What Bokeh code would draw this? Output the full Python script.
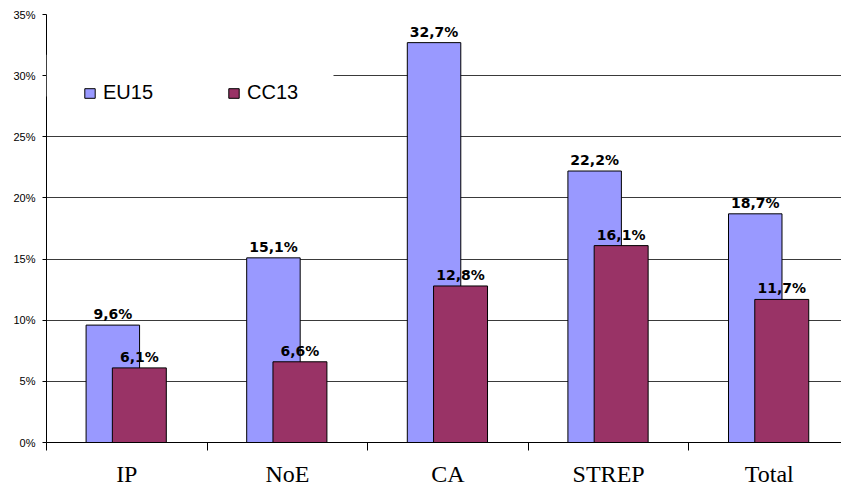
from bokeh.plotting import figure
from bokeh.models import (Range1d, FixedTicker, PrintfTickFormatter, Legend, LegendItem,
                          BoxAnnotation, ColumnDataSource)
from bokeh.core.properties import value
from bokeh.embed import file_html
from bokeh.resources import INLINE

categories = ["IP", "NoE", "CA", "STREP", "Total"]
eu15 = [9.6, 15.1, 32.7, 22.2, 18.7]
cc13 = [6.1, 6.6, 12.8, 16.1, 11.7]
y_ticks = [0, 5, 10, 15, 20, 25, 30, 35]

EU_COLOR = "#9999FF"
CC_COLOR = "#993366"
GRID = "#3a3a3a"

xs = list(range(len(categories)))
fmt = lambda v: f"{v:.1f}%".replace(".", ",")

src_eu = ColumnDataSource(dict(x=[i - 0.087 for i in xs], top=eu15, lab=[fmt(v) for v in eu15]))
src_cc = ColumnDataSource(dict(x=[i + 0.078 for i in xs], top=cc13, lab=[fmt(v) for v in cc13]))

p = figure(width=841, height=489, output_backend="svg", toolbar_location=None,
           x_range=Range1d(-0.5, 4.45), y_range=Range1d(0, 35),
           min_border_left=46, min_border_right=0, min_border_top=14, min_border_bottom=46)
p.outline_line_color = None
p.background_fill_color = "white"
p.border_fill_color = "white"

# grid
p.xgrid.grid_line_color = None
p.ygrid.ticker = FixedTicker(ticks=y_ticks[1:])
p.ygrid.grid_line_color = GRID
p.ygrid.grid_line_width = 1

# y axis
p.yaxis.ticker = FixedTicker(ticks=y_ticks)
p.yaxis.formatter = PrintfTickFormatter(format="%d%%")
p.yaxis.axis_line_color = "black"
p.yaxis.major_tick_line_color = "black"
p.yaxis.major_tick_out = 4
p.yaxis.major_tick_in = 0
p.yaxis.minor_tick_line_color = None
p.yaxis.major_label_text_font = "Liberation Sans"
p.yaxis.major_label_text_font_size = "11px"
p.yaxis.major_label_text_color = "black"
p.yaxis.major_label_standoff = 7

# x axis: labels at group centres, ticks at group boundaries
p.xaxis.ticker = FixedTicker(ticks=xs, minor_ticks=[i - 0.5 for i in range(len(categories) + 1)])
p.xaxis.major_label_overrides = {i: c for i, c in enumerate(categories)}
p.xaxis.axis_line_color = "black"
p.xaxis.major_tick_line_color = None
p.xaxis.major_tick_out = 0
p.xaxis.major_tick_in = 0
p.xaxis.minor_tick_line_color = "black"
p.xaxis.minor_tick_out = 8
p.xaxis.minor_tick_in = 0
p.xaxis.major_label_text_font = "Liberation Serif"
p.xaxis.major_label_text_font_size = "24px"
p.xaxis.major_label_text_color = "black"
p.xaxis.major_label_standoff = 10

# white patch behind legend hiding part of the 30% gridline
p.add_layout(BoxAnnotation(left=-0.5, right=1.287, bottom=28.3, top=31.7,
                           fill_color="white", fill_alpha=1, line_color=None))

r_eu = p.vbar(x="x", top="top", width=0.333, source=src_eu,
              fill_color=EU_COLOR, line_color="black", line_width=1)
r_cc = p.vbar(x="x", top="top", width=0.336, source=src_cc,
              fill_color=CC_COLOR, line_color="black", line_width=1)

for src in (src_eu, src_cc):
    p.text(x="x", y="top", text="lab", source=src, text_align="center",
           text_baseline="alphabetic", y_offset=-11,
           text_font=value("DejaVu Sans"), text_font_style="bold",
           text_font_size="14px", text_color="black")

legend = Legend(items=[LegendItem(label="EU15", renderers=[r_eu]),
                       LegendItem(label="CC13", renderers=[r_cc])],
                orientation="horizontal", location=(37, 338),
                padding=0, margin=0, spacing=74, label_standoff=7,
                glyph_width=13, glyph_height=12,
                label_text_font="Liberation Sans", label_text_font_size="20px",
                label_text_color="black",
                background_fill_alpha=0, border_line_color=None)
p.add_layout(legend)

open("out.html", "w").write(file_html(p, INLINE))
